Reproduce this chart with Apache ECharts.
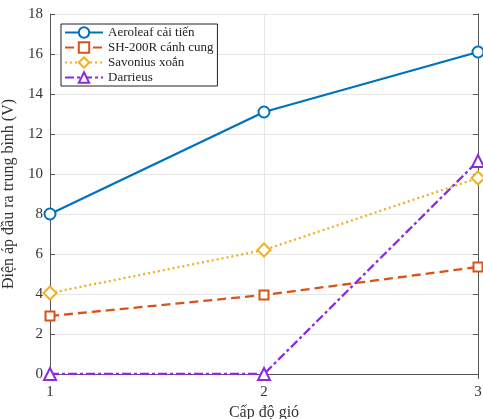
<!DOCTYPE html>
<html><head><meta charset="utf-8">
<script src="https://cdn.jsdelivr.net/npm/echarts@6/dist/echarts.min.js"></script>
<style>html,body{margin:0;padding:0;background:#fff}#c{width:483px;height:419px}</style>
</head><body><div id="c"></div>
<script>
const windLevels = [1, 2, 3];
const aeroleaf = [8.0, 13.1, 16.1];
const sh200r = [2.9, 3.95, 5.35];
const savonius = [4.05, 6.2, 9.8];
const darrieus = [0, 0, 10.65];
const seriesNames = ['Aeroleaf cải tiến', 'SH-200R cánh cung', 'Savonius xoắn', 'Darrieus'];
const yTicks = [0, 2, 4, 6, 8, 10, 12, 14, 16, 18];

const font = 'Liberation Serif, Times New Roman, serif';
const pts = arr => windLevels.map((x, i) => [x, arr[i]]);
const chart = echarts.init(document.getElementById('c'));
const axisCol = '#555';
const mk = (name, data, color, symbol, type, size) => ({
  name, type: 'line', data: pts(data), symbol, symbolSize: size,
  itemStyle: { color: '#fff', borderColor: color, borderWidth: 2 },
  lineStyle: { color, width: 2.3, type },
  emphasis: { disabled: true }, z: 3
});
chart.setOption({
  animation: false,
  textStyle: { fontFamily: font },
  grid: { left: 50, right: 5, top: 14, bottom: 45, containLabel: false, outerBoundsMode: 'none' },
  legend: {
    left: 61, top: 24, orient: 'vertical', itemGap: 2, itemWidth: 38, itemHeight: 13,
    padding: [2, 4, 2, 3], backgroundColor: '#fff', borderColor: '#222', borderWidth: 1,
    textStyle: { fontFamily: font, fontSize: 13, color: '#222' },
    data: seriesNames
  },
  xAxis: [{
    type: 'value', min: 1, max: 3, interval: 1,
    axisLine: { show: true, lineStyle: { color: axisCol } },
    axisTick: { show: true, inside: true, length: 5, lineStyle: { color: axisCol } },
    axisLabel: { color: '#333', fontSize: 15, fontFamily: font, margin: 11 },
    splitLine: { show: true, lineStyle: { color: '#e6e6e6' } },
    name: 'Cấp độ gió', nameLocation: 'middle', nameGap: 29,
    nameTextStyle: { color: '#333', fontSize: 16, fontFamily: font }
  }, {
    type: 'value', min: 1, max: 3, interval: 1, position: 'top',
    axisLine: { show: true, lineStyle: { color: axisCol } },
    axisTick: { show: true, inside: true, length: 5, lineStyle: { color: axisCol } },
    axisLabel: { show: false }, splitLine: { show: false }
  }],
  yAxis: [{
    type: 'value', min: 0, max: 18, interval: 2,
    axisLine: { show: true, lineStyle: { color: axisCol } },
    axisTick: { show: true, inside: true, length: 5, lineStyle: { color: axisCol } },
    axisLabel: { color: '#333', fontSize: 15, fontFamily: font, margin: 7,
      formatter: v => yTicks.includes(v) ? String(v) : '' },
    splitLine: { show: true, lineStyle: { color: '#e6e6e6' } },
    name: 'Điện áp đầu ra trung bình (V)', nameLocation: 'middle', nameGap: 30,
    nameTextStyle: { color: '#333', fontSize: 16, fontFamily: font }
  }, {
    type: 'value', min: 0, max: 18, interval: 2, position: 'right',
    axisLine: { show: true, lineStyle: { color: axisCol } },
    axisTick: { show: true, inside: true, length: 5, lineStyle: { color: axisCol } },
    axisLabel: { show: false }, splitLine: { show: false }
  }],
  series: [
    mk(seriesNames[0], aeroleaf, '#0072BD', 'circle', 'solid', 11),
    mk(seriesNames[1], sh200r, '#D95319', 'rect', [9, 5], 9),
    mk(seriesNames[2], savonius, '#EDB120', 'diamond', [2, 3], 13),
    mk(seriesNames[3], darrieus, '#8A2BE2', 'triangle', [9, 3, 3, 3], 12)
  ]
});
</script></body></html>
